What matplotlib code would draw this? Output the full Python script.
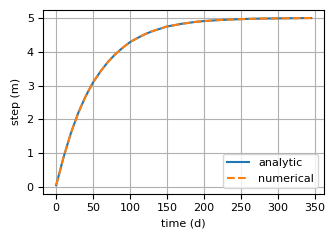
import numpy as np
import matplotlib
matplotlib.use('Agg')
import matplotlib.pyplot as plt

# values
time_d = [0, 10, 20, 30, 40, 50, 60, 70, 80, 90, 100, 110, 120, 130, 140,
          150, 160, 170, 180, 190, 200, 220, 240, 260, 280, 300, 320, 345]
analytic = [0.05, 0.88, 1.6, 2.2, 2.69, 3.1, 3.42, 3.7, 3.93, 4.12, 4.29, 4.41,
            4.52, 4.61, 4.68, 4.75, 4.79, 4.83, 4.86, 4.89, 4.91, 4.94, 4.96,
            4.975, 4.985, 4.99, 4.995, 5.0]
numerical = analytic

plt.rcParams['font.size'] = 8
fig, ax = plt.subplots(figsize=(3.34, 2.42), dpi=100)
ax.plot(time_d, analytic, label='analytic')
ax.plot(time_d, numerical, '--', label='numerical')
ax.set_xlabel('time (d)')
ax.set_ylabel('step (m)')
ax.set_xticks(np.arange(0, 351, 50))
ax.grid(True)
ax.legend(loc='lower right')
plt.subplots_adjust(left=0.13, right=0.97, bottom=0.2, top=0.96)
plt.savefig('out.png')
